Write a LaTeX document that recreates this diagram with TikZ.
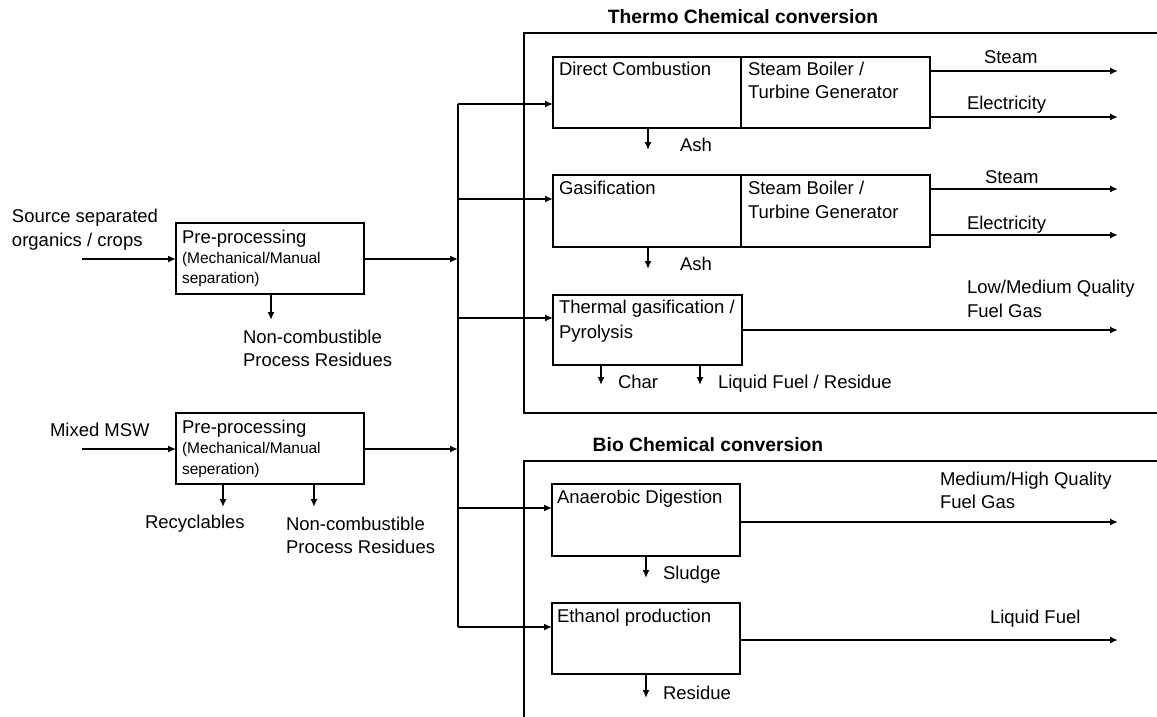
\documentclass[tikz,border=0pt]{standalone}
\usepackage{fontspec}
\setmainfont{Liberation Sans}
\usetikzlibrary{arrows.meta}
\begin{document}
\begin{tikzpicture}[x=1pt,y=-1pt,
  every node/.style={inner sep=0pt, outer sep=0pt},
  box/.style={draw, line width=1.6pt, anchor=north west},
  txt/.style={anchor=base west, font=\fontsize{18.5}{22}\selectfont},
  sml/.style={anchor=base west, font=\fontsize{15.5}{18}\selectfont},
  ttl/.style={anchor=base, font=\bfseries\fontsize{19.3}{23}\selectfont},
  arr/.style={-{Latex[length=8pt,width=7pt]}, line width=1.6pt},
  ln/.style={line width=1.6pt}]
\useasboundingbox (0,0) rectangle (1157,717);

% frames
\draw[ln] (1159,33) -- (524,33) -- (524,413) -- (1159,413);
\draw[ln] (1159,461) -- (524,461) -- (524,719);
\node[ttl] (tthermo) at (743,24) {Thermo Chemical conversion};
\node[ttl] (tbio) at (708,451) {Bio Chemical conversion};

% left boxes
\node[box, minimum width=188pt, minimum height=71pt] (pp1) at (176,223) {};
\node[box, minimum width=188pt, minimum height=71pt] (pp2) at (176,413) {};
\node[txt] (pp1a) at (182,243) {Pre-processing};
\node[sml] (pp1b) at (182,263) {(Mechanical/Manual};
\node[sml] (pp1c) at (182,283) {separation)};
\node[txt] (pp2a) at (182,433) {Pre-processing};
\node[sml] (pp2b) at (182,453) {(Mechanical/Manual};
\node[sml] (pp2c) at (182,474) {seperation)};

\node[txt] (src1) at (12,222) {Source separated};
\node[txt] (src2) at (12,246) {organics / crops};
\node[txt] (msw) at (50,436) {Mixed MSW};
\node[txt] (nc1a) at (243,343) {Non-combustible};
\node[txt] (nc1b) at (243,366) {Process Residues};
\node[txt] (rec) at (145,528) {Recyclables};
\node[txt] (nc2a) at (286,530) {Non-combustible};
\node[txt] (nc2b) at (286,553) {Process Residues};

% thermo boxes
\node[box, minimum width=188pt, minimum height=71pt] (dcl) at (553,57) {};
\node[box, minimum width=189pt, minimum height=71pt] (dcr) at (741,57) {};
\node[box, minimum width=188pt, minimum height=72pt] (gasl) at (553,175) {};
\node[box, minimum width=189pt, minimum height=72pt] (gasr) at (741,175) {};
\node[box, minimum width=189pt, minimum height=70pt] (tg) at (553,295) {};
\node[txt] (dct) at (559,76) {Direct Combustion};
\node[txt] (sb1a) at (748,76) {Steam Boiler /};
\node[txt] (sb1b) at (748,99) {Turbine Generator};
\node[txt] (gast) at (559,194) {Gasification};
\node[txt] (sb2a) at (748,194) {Steam Boiler /};
\node[txt] (sb2b) at (748,218) {Turbine Generator};
\node[txt] (tga) at (559,313) {Thermal gasification /};
\node[txt] (tgb) at (559,338) {Pyrolysis};

\node[txt] (st1) at (984,64) {Steam};
\node[txt] (el1) at (967,110) {Electricity};
\node[txt] (st2) at (985,183) {Steam};
\node[txt] (el2) at (967,229) {Electricity};
\node[txt] (lm1) at (967,293) {Low/Medium Quality};
\node[txt] (lm2) at (967,317) {Fuel Gas};
\node[txt] (ash1) at (680,151) {Ash};
\node[txt] (ash2) at (680,270) {Ash};
\node[txt] (char) at (618,388) {Char};
\node[txt] (lfr) at (718,388) {Liquid Fuel / Residue};

% bio boxes
\node[box, minimum width=188pt, minimum height=72pt] (ad) at (552,484) {};
\node[box, minimum width=188pt, minimum height=71pt] (eth) at (552,603) {};
\node[txt] (adt) at (557,503) {Anaerobic Digestion};
\node[txt] (etht) at (557,622) {Ethanol production};
\node[txt] (mh1) at (940,485) {Medium/High Quality};
\node[txt] (mh2) at (940,508) {Fuel Gas};
\node[txt] (lf) at (990,623) {Liquid Fuel};
\node[txt] (sl) at (663,579) {Sludge};
\node[txt] (res) at (663,699) {Residue};

% coordinates
\coordinate (in1) at (82,259);
\coordinate (in2) at (82,449);
\coordinate (bus1) at (458,104);
\coordinate (bus2) at (458,199);
\coordinate (bus3) at (458,318);
\coordinate (bus4) at (458,508);
\coordinate (bus5) at (458,627);
\coordinate (r1) at (271,320);
\coordinate (r2) at (223,507);
\coordinate (r3) at (314,507);
\coordinate (o1) at (1118,71);
\coordinate (o2) at (1118,117);
\coordinate (o3) at (1118,189);
\coordinate (o4) at (1118,235);
\coordinate (o5) at (1118,330);
\coordinate (o6) at (1118,522);
\coordinate (o7) at (1118,640);
\coordinate (d1) at (648,150);
\coordinate (d2) at (648,269);
\coordinate (d3) at (601,385);
\coordinate (d4) at (700,385);
\coordinate (d5) at (646,578);
\coordinate (d6) at (646,698);

% left flow
\draw[arr] (in1) -- (in1 -| pp1.west);
\draw[arr] (in2) -- (in2 -| pp2.west);
\draw[arr] (in1 -| pp1.east) -- (in1 -| bus1);
\draw[arr] (in2 -| pp2.east) -- (in2 -| bus1);
\draw[arr] (r1 |- pp1.south) -- (r1);
\draw[arr] (r2 |- pp2.south) -- (r2);
\draw[arr] (r3 |- pp2.south) -- (r3);

% bus
\draw[ln] (bus1) -- (bus5);
\draw[arr] (bus1) -- (bus1 -| dcl.west);
\draw[arr] (bus2) -- (bus2 -| gasl.west);
\draw[arr] (bus3) -- (bus3 -| tg.west);
\draw[arr] (bus4) -- (bus4 -| ad.west);
\draw[arr] (bus5) -- (bus5 -| eth.west);

% outputs
\draw[arr] (o1 -| dcr.east) -- (o1);
\draw[arr] (o2 -| dcr.east) -- (o2);
\draw[arr] (o3 -| gasr.east) -- (o3);
\draw[arr] (o4 -| gasr.east) -- (o4);
\draw[arr] (o5 -| tg.east) -- (o5);
\draw[arr] (o6 -| ad.east) -- (o6);
\draw[arr] (o7 -| eth.east) -- (o7);

% residues
\draw[arr] (d1 |- dcl.south) -- (d1);
\draw[arr] (d2 |- gasl.south) -- (d2);
\draw[arr] (d3 |- tg.south) -- (d3);
\draw[arr] (d4 |- tg.south) -- (d4);
\draw[arr] (d5 |- ad.south) -- (d5);
\draw[arr] (d6 |- eth.south) -- (d6);
\end{tikzpicture}
\end{document}
